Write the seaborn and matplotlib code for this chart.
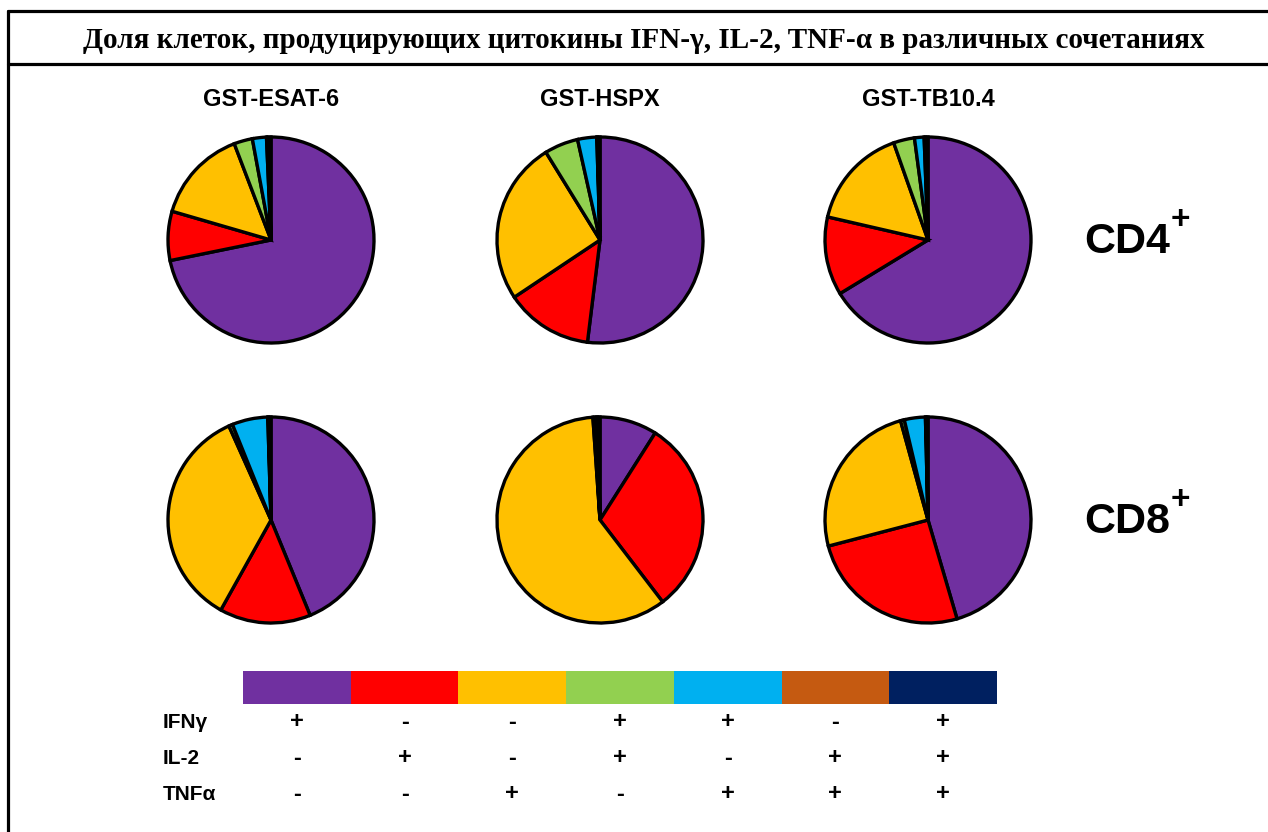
import numpy as np
import matplotlib
matplotlib.use("Agg")
import matplotlib.pyplot as plt
from matplotlib.colors import ListedColormap
from matplotlib.lines import Line2D
import seaborn as sns

# Data: share of cells (%) per cytokine combination, clockwise from 12 o'clock
antigens = ["GST-ESAT-6", "GST-HSPX", "GST-TB10.4"]
cd4_esat6 = [71.8, 7.7, 14.7, 2.9, 2.2, 0.2, 0.5]
cd4_hspx = [52.0, 13.7, 25.6, 5.3, 3.0, 0.1, 0.4]
cd4_tb104 = [66.3, 12.3, 16.0, 3.3, 1.5, 0.2, 0.4]
cd8_esat6 = [43.8, 14.3, 35.2, 0.6, 5.6, 0.1, 0.4]
cd8_hspx = [9.0, 30.6, 59.3, 0.2, 0.4, 0.1, 0.4]
cd8_tb104 = [45.5, 25.5, 24.8, 0.6, 3.3, 0.1, 0.3]
cell_types = ["CD4", "CD8"]

combo_colors = ["#7030A0", "#FF0000", "#FFC000", "#92D050", "#00B0F0", "#C55A11", "#002060"]
cytokines = ["IFNγ", "IL-2", "TNFα"]
ifng_signs = ["+", "-", "-", "+", "+", "-", "+"]
il2_signs = ["-", "+", "-", "+", "-", "+", "+"]
tnfa_signs = ["-", "-", "+", "-", "+", "+", "+"]

title = "Доля клеток, продуцирующих цитокины IFN-γ, IL-2, TNF-α в различных сочетаниях"

# Plot config
sns.set_theme(style="white")
plt.rcParams['font.family'] = ['Liberation Sans', 'DejaVu Sans']
plt.rcParams['text.color'] = 'black'

W, H = 1268, 832
fig = plt.figure(figsize=(W / 100, H / 100), dpi=100)


def px_axes(x0, y0, w, h):
    # axes from pixel box (top-left origin)
    return fig.add_axes([x0 / W, 1 - (y0 + h) / H, w / W, h / H])


# frame lines
lw = 2.3
fig.add_artist(Line2D([8 / W, 8 / W], [0, 1 - 11 / H], color="black", lw=lw, transform=fig.transFigure))
fig.add_artist(Line2D([8 / W, 1], [1 - 11 / H, 1 - 11 / H], color="black", lw=lw, transform=fig.transFigure))
fig.add_artist(Line2D([8 / W, 1], [1 - 64 / H, 1 - 64 / H], color="black", lw=lw, transform=fig.transFigure))

fig.text(644 / W, 1 - 40 / H, title, ha="center", va="center", fontsize=21,
         fontweight="bold", family=["Liberation Serif", "DejaVu Serif"])

# pies
col_x = [271, 600, 928]
row_y = [240, 520]
radius = 103
pie_rows = [[cd4_esat6, cd4_hspx, cd4_tb104], [cd8_esat6, cd8_hspx, cd8_tb104]]
lim = 1.1
for r, row in enumerate(pie_rows):
    for c, vals in enumerate(row):
        size = 2 * radius * lim
        ax = px_axes(col_x[c] - size / 2, row_y[r] - size / 2, size, size)
        ax.pie(vals, colors=combo_colors, startangle=90, counterclock=False,
               wedgeprops=dict(edgecolor="black", linewidth=2.4))
        ax.set_xlim(-lim, lim)
        ax.set_ylim(-lim, lim)
        ax.set_aspect("equal")
        ax.axis("off")

for c, name in enumerate(antigens):
    fig.text(col_x[c] / W, 1 - 99 / H, name, ha="center", va="center",
             fontsize=17, fontweight="bold")

for r, name in enumerate(cell_types):
    fig.text(1084 / W, 1 - (row_y[r] + 2) / H, name, ha="left", va="center",
             fontsize=31, fontweight="bold")
    fig.text(1171 / W, 1 - (row_y[r] - 20) / H, "+", ha="left", va="center",
             fontsize=24, fontweight="bold")

# legend colour bar
bar = px_axes(243, 671, 754, 33)
sns.heatmap(np.arange(len(combo_colors)).reshape(1, -1), cmap=ListedColormap(combo_colors),
            cbar=False, ax=bar, xticklabels=False, yticklabels=False, linewidths=0)
bar.axis("off")

cell_w = 754 / len(combo_colors)
sign_rows = [ifng_signs, il2_signs, tnfa_signs]
sign_y = [722, 758, 794]
for i, (lab, signs) in enumerate(zip(cytokines, sign_rows)):
    fig.text(163 / W, 1 - sign_y[i] / H, lab, ha="left", va="center", fontsize=15,
             fontweight="bold")
    for j, s in enumerate(signs):
        fig.text((243 + cell_w * (j + 0.5)) / W, 1 - sign_y[i] / H, s, ha="center", va="center",
                 fontsize=17, fontweight="bold")

plt.savefig("out.png", dpi=100)
plt.close()
print("Done")
